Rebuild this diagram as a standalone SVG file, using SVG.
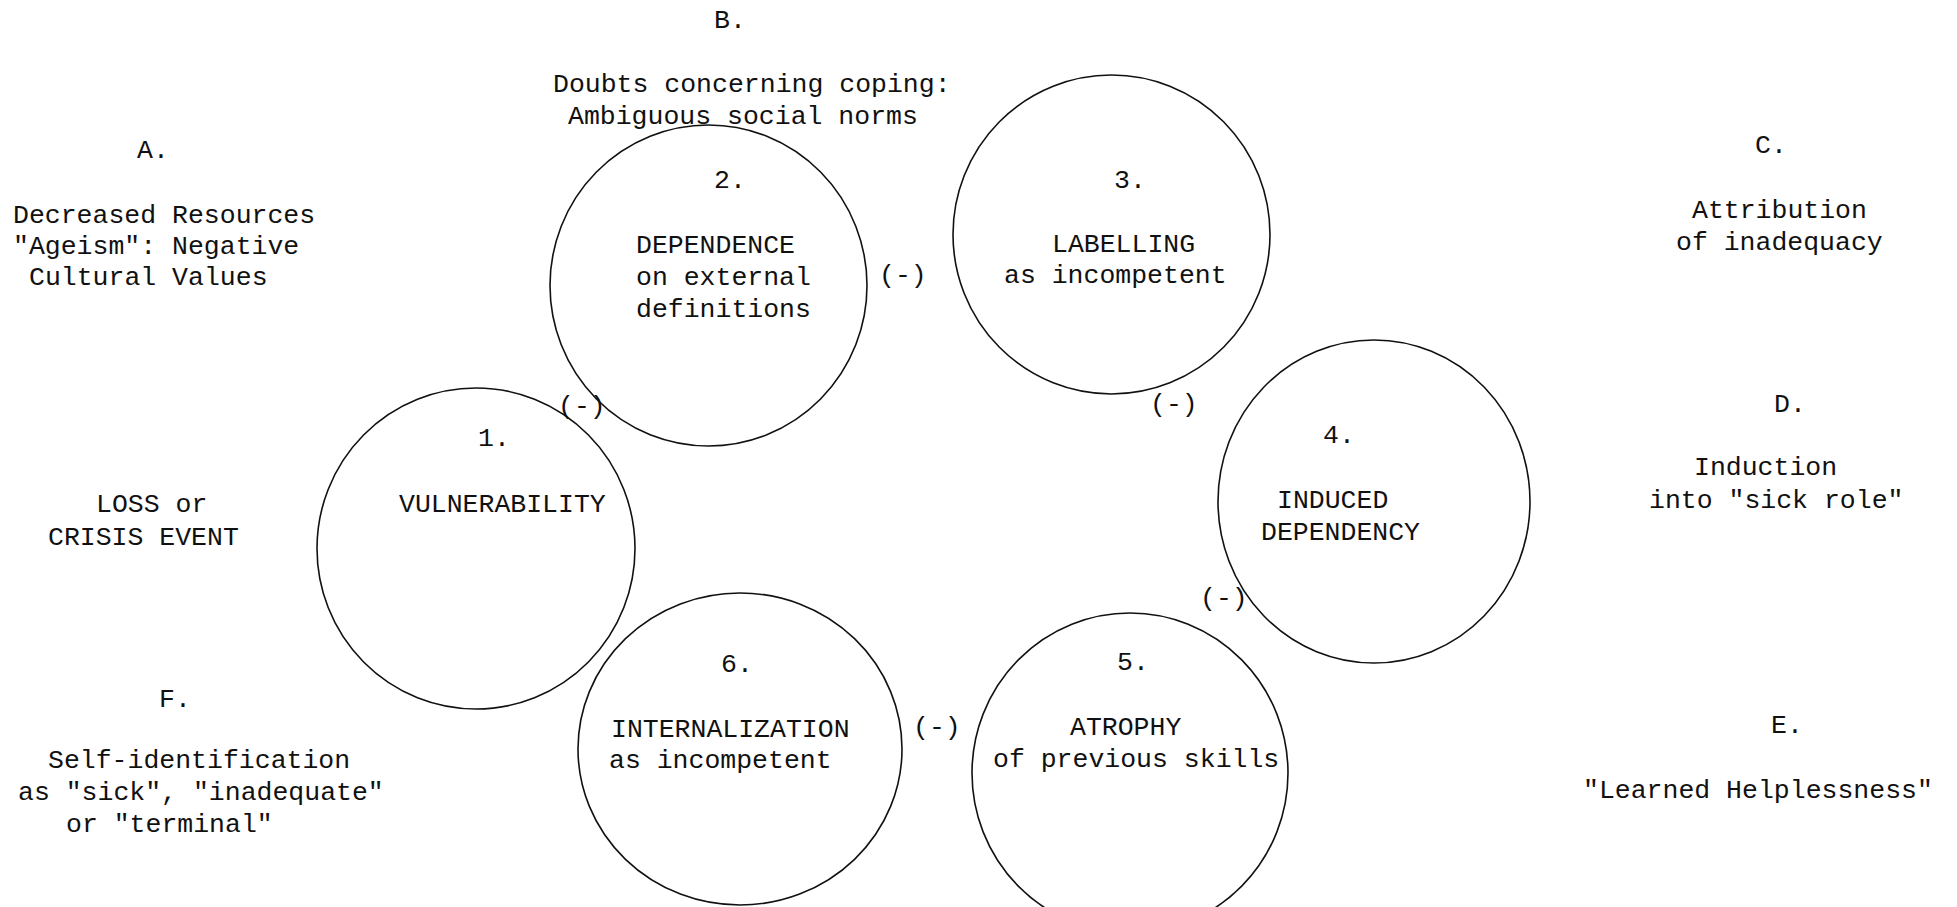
<svg xmlns="http://www.w3.org/2000/svg" width="1957" height="907" viewBox="0 0 1957 907">
<style>
text{font-family:"Liberation Mono","DejaVu Sans Mono",monospace;font-size:26.5px;fill:#111}
.c{fill:none;stroke:#111;stroke-width:1.6}
</style>
<rect width="1957" height="907" fill="#fff"/>
<g id="node-1"><ellipse class="c" cx="476" cy="548.5" rx="159" ry="160.5"/><text x="478" y="446">1.</text><text x="399" y="512">VULNERABILITY</text></g>
<g id="node-2"><ellipse class="c" cx="708.5" cy="285.5" rx="158.5" ry="160.5"/><text x="714" y="188">2.</text><text x="636" y="253">DEPENDENCE</text><text x="636" y="285">on external</text><text x="636" y="317">definitions</text></g>
<g id="node-3"><ellipse class="c" cx="1111.5" cy="234.5" rx="158.5" ry="159.5"/><text x="1114" y="188">3.</text><text x="1052" y="252">LABELLING</text><text x="1004" y="283">as incompetent</text></g>
<g id="node-4"><ellipse class="c" cx="1374" cy="501.5" rx="156" ry="161.5"/><text x="1323" y="443">4.</text><text x="1277" y="508">INDUCED</text><text x="1261" y="540">DEPENDENCY</text></g>
<g id="node-5"><ellipse class="c" cx="1130" cy="773" rx="158" ry="160"/><text x="1117" y="670">5.</text><text x="1070" y="735">ATROPHY</text><text x="993" y="767">of previous skills</text></g>
<g id="node-6"><ellipse class="c" cx="740" cy="749" rx="162" ry="156"/><text x="721" y="672">6.</text><text x="611" y="737">INTERNALIZATION</text><text x="609" y="768">as incompetent</text></g>
<g id="label-A"><text x="137" y="158">A.</text><text x="13" y="223">Decreased Resources</text><text x="13" y="254">"Ageism": Negative</text><text x="29" y="285">Cultural Values</text></g>
<g id="label-B"><text x="714" y="28">B.</text><text x="553" y="92">Doubts concerning coping:</text><text x="568" y="124">Ambiguous social norms</text></g>
<g id="label-C"><text x="1755" y="153">C.</text><text x="1692" y="218">Attribution</text><text x="1676" y="250">of inadequacy</text></g>
<g id="label-D"><text x="1774" y="412">D.</text><text x="1694" y="475">Induction</text><text x="1649" y="508">into "sick role"</text></g>
<g id="label-E"><text x="1771" y="733">E.</text><text x="1583" y="798">"Learned Helplessness"</text></g>
<g id="label-F"><text x="159" y="707">F.</text><text x="48" y="768">Self-identification</text><text x="18" y="800">as "sick", "inadequate"</text><text x="66" y="832">or "terminal"</text></g>
<g id="label-loss"><text x="96" y="512">LOSS or</text><text x="48" y="545">CRISIS EVENT</text></g>
<g id="connectors">
<text x="558" y="414">(-)</text>
<text x="879" y="283">(-)</text>
<text x="1150" y="412">(-)</text>
<text x="1200" y="606">(-)</text>
<text x="913" y="735">(-)</text>
</g>
</svg>
